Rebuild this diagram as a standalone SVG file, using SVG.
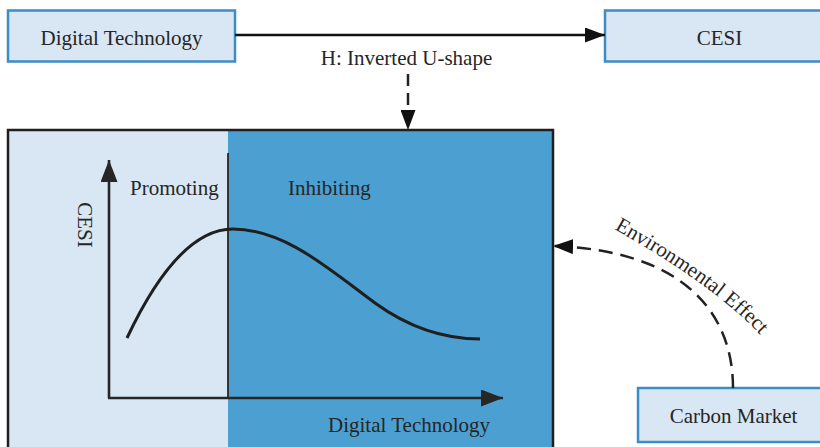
<svg xmlns="http://www.w3.org/2000/svg" width="820" height="447" viewBox="0 0 820 447">
  <defs>
    <style>
      .label { font-family: "Liberation Serif", "Times New Roman", serif; font-size: 21px; fill: #262626; }
      .box { fill: #d9e6f3; stroke: #3d8cc6; stroke-width: 2.5; }
      .line { fill: none; stroke: #111; stroke-width: 2.4; }
      .dash { fill: none; stroke: #222; stroke-width: 2.5; }
      .axis { fill: none; stroke: #262626; stroke-width: 2.6; }
    </style>
    <marker id="head" markerUnits="userSpaceOnUse" markerWidth="21" markerHeight="15" refX="20" refY="7.5" orient="auto" viewBox="0 0 21 15">
      <path d="M0,0 L20,7.5 L0,15 Z" fill="#111"/>
    </marker>
    <marker id="axisHead" markerUnits="userSpaceOnUse" markerWidth="23" markerHeight="17" refX="22" refY="8.5" orient="auto" viewBox="0 0 23 17">
      <path d="M0,0 L22,8.5 L0,17 Z" fill="#262626"/>
    </marker>
    <path id="effectPath" d="M614,229 Q730,294 775,352"/>
  </defs>

  <!-- upper boxes -->
  <g id="digital-technology">
    <rect class="box" x="8" y="10.5" width="227" height="51"/>
    <text class="label" x="121.5" y="45" text-anchor="middle">Digital Technology</text>
  </g>
  <g id="cesi">
    <rect class="box" x="605" y="10.5" width="240" height="51"/>
    <text class="label" x="719.5" y="45" text-anchor="middle">CESI</text>
  </g>

  <!-- inverted U-shape panel -->
  <g id="u-shape-panel">
    <rect x="8" y="130" width="220" height="340" fill="#d9e6f3"/>
    <rect x="228" y="130" width="325" height="340" fill="#4c9fd1"/>
    <rect x="8" y="130" width="545" height="340" fill="none" stroke="#1f1f1f" stroke-width="2.5"/>
    <!-- turning point divider -->
    <line x1="228" y1="153" x2="228" y2="397" stroke="#262626" stroke-width="1.8"/>
    <!-- axes -->
    <path class="axis" d="M109,398 L109,160" marker-end="url(#axisHead)"/>
    <path class="axis" d="M108,398 L503,398" marker-end="url(#axisHead)"/>
    <!-- inverted U curve -->
    <path d="M127,338 C160,268 195,229 233,229 C285,229 330,270 375,303 C415,332 450,339 480,339" fill="none" stroke="#1f1f1f" stroke-width="3"/>
    <text class="label" x="130" y="195">Promoting</text>
    <text class="label" x="288" y="195">Inhibiting</text>
    <text class="label" transform="translate(78,225) rotate(90)" text-anchor="middle">CESI</text>
    <text class="label" x="328" y="432">Digital Technology</text>
  </g>

  <g id="carbon-market">
    <rect class="box" x="638" y="388" width="200" height="54"/>
    <text class="label" x="733.5" y="423" text-anchor="middle">Carbon Market</text>
  </g>

  <!-- connectors -->
  <g id="connectors">
    <path class="line" d="M235,35 L605,35" marker-end="url(#head)"/>
    <text class="label" x="406.5" y="65" text-anchor="middle">H: Inverted U-shape</text>
    <path class="dash" d="M408,74 L408,130" stroke-dasharray="12,7" marker-end="url(#head)"/>
    <path class="dash" d="M733,388 C733,310 680,250 553,246" stroke-dasharray="14,8" marker-end="url(#head)"/>
    <text class="label"><textPath href="#effectPath">Environmental Effect</textPath></text>
  </g>
</svg>
